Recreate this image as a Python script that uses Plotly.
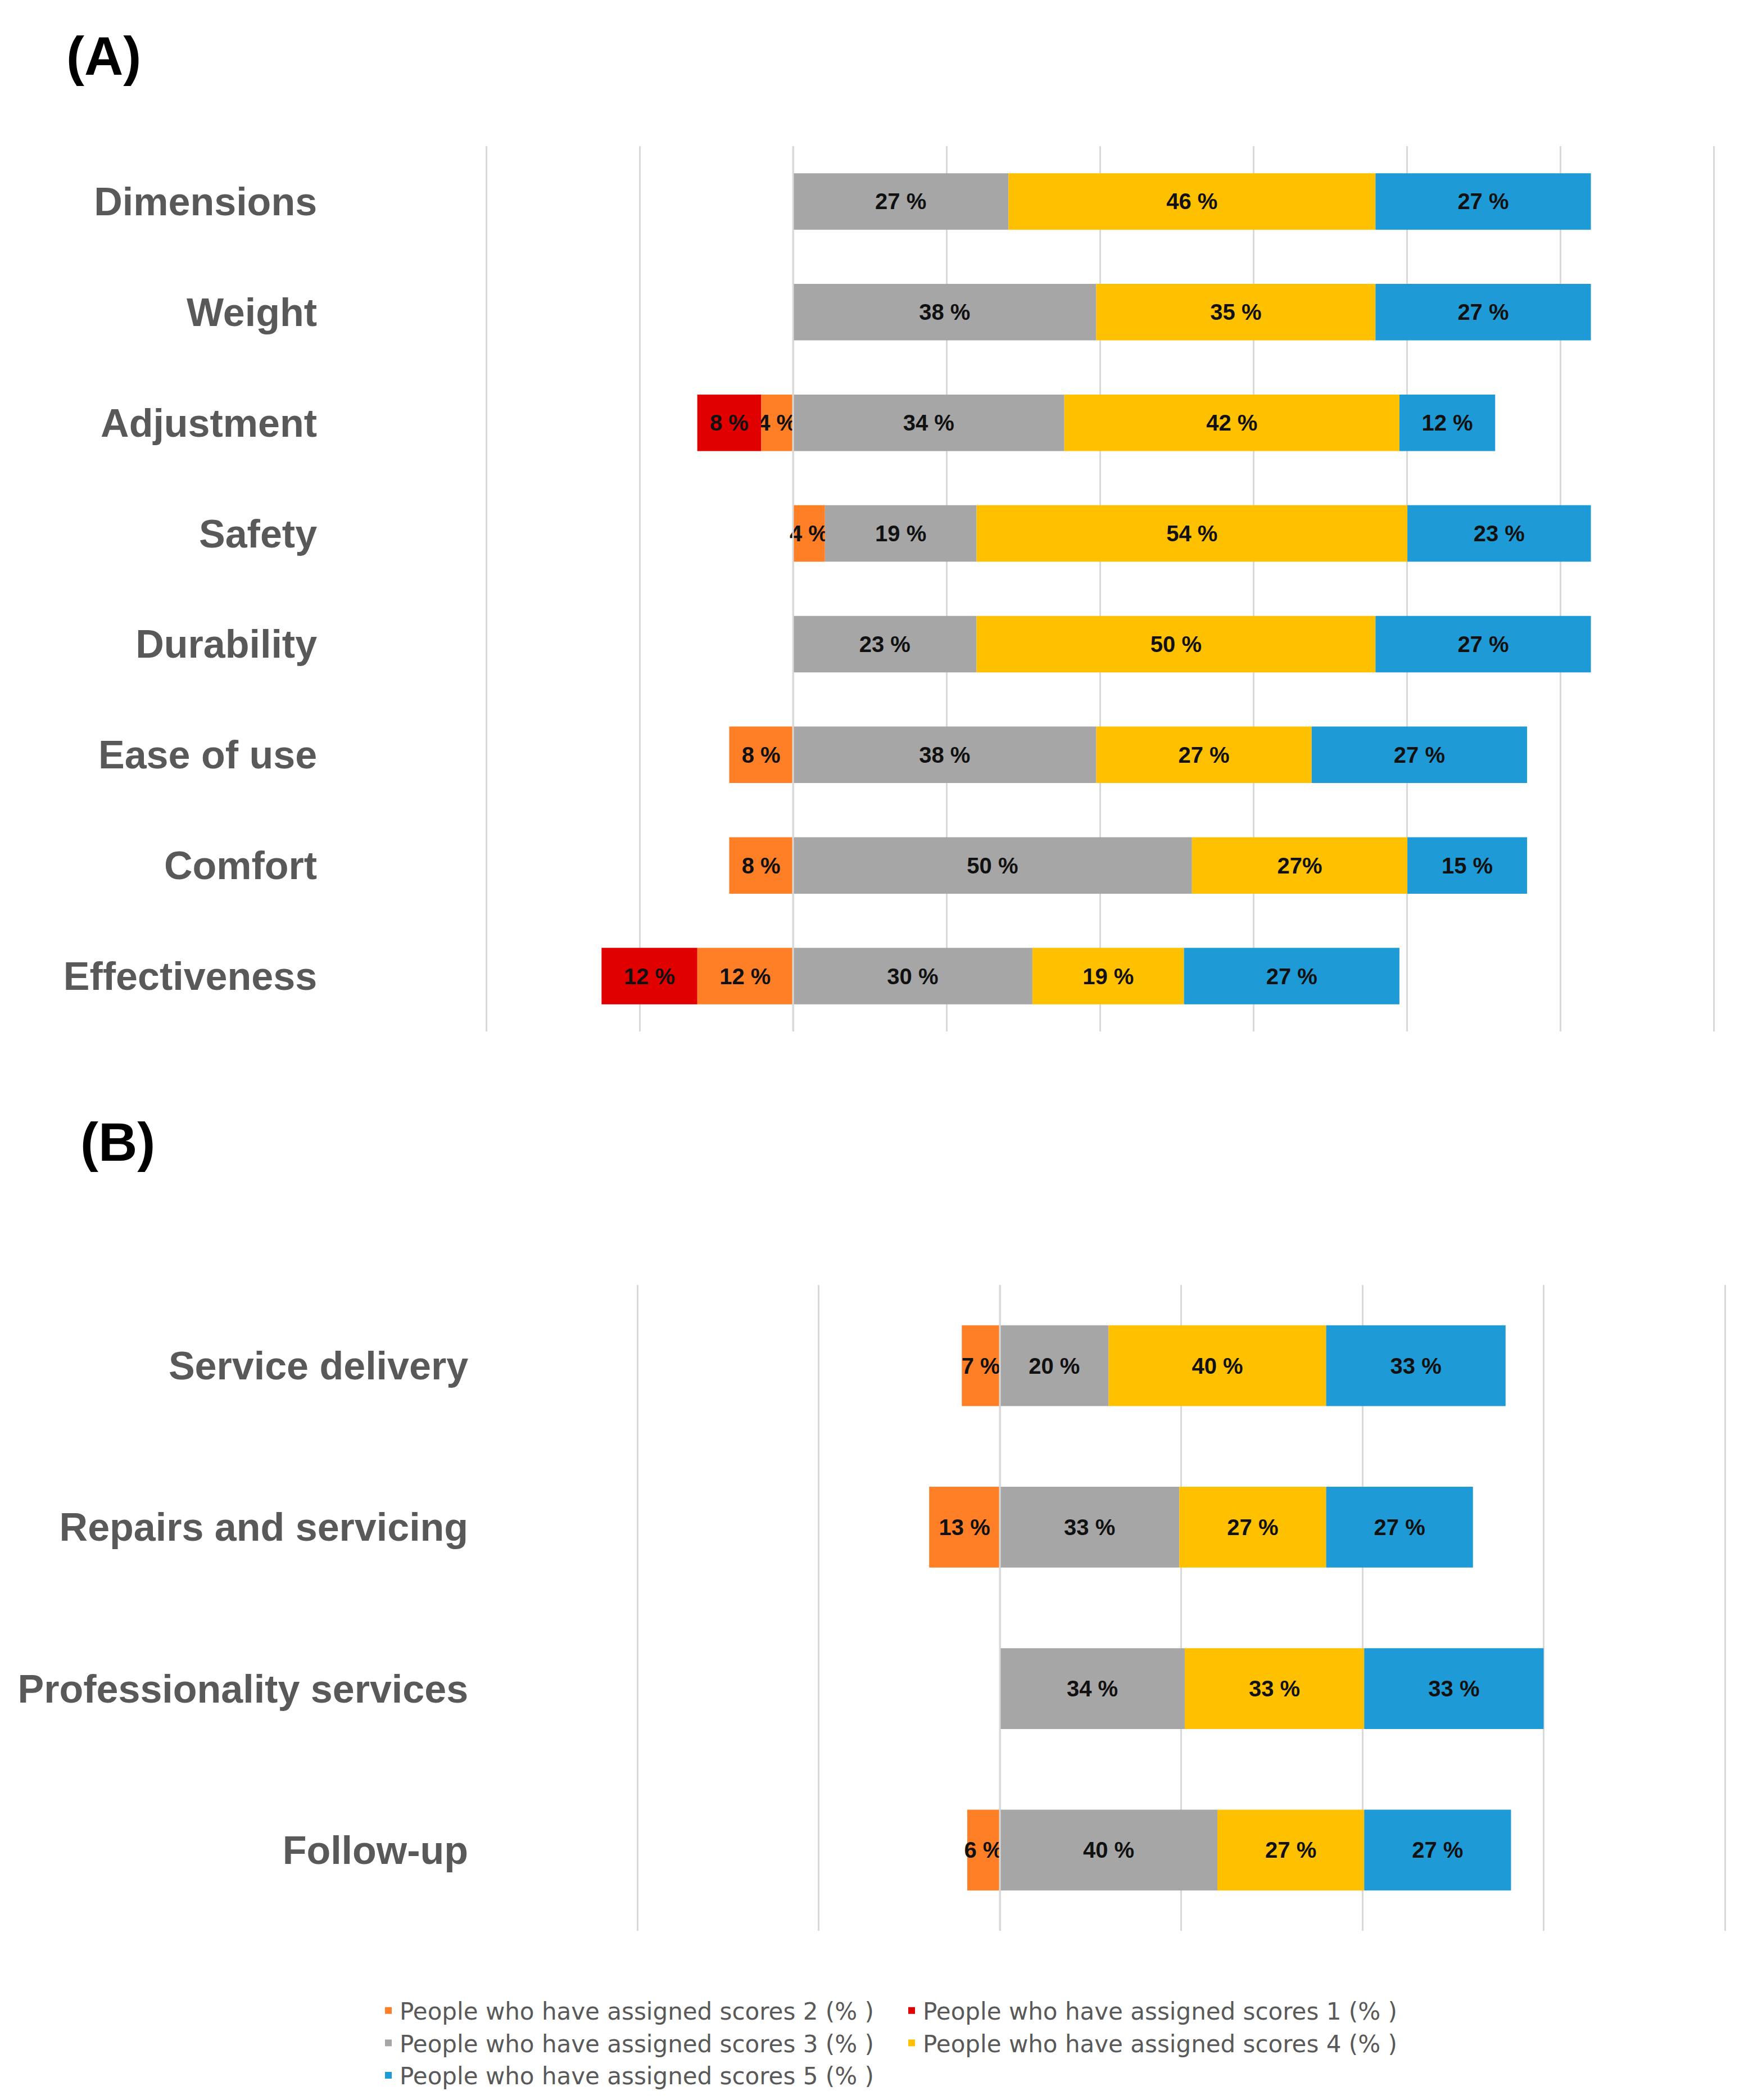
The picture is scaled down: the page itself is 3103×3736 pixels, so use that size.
import plotly.graph_objects as go

# ---------------- data ----------------
cats_a = ["Dimensions", "Weight", "Adjustment", "Safety", "Durability",
          "Ease of use", "Comfort", "Effectiveness"]
# score 1 and score 2 are drawn on the negative side (except Safety's score 2)
a_s1 = [None, None, -8, None, None, None, None, -12]
a_s2 = [None, None, -4, 4, None, -8, -8, -12]
a_s3 = [27, 38, 34, 19, 23, 38, 50, 30]
a_s4 = [46, 35, 42, 54, 50, 27, 27, 19]
a_s5 = [27, 27, 12, 23, 27, 27, 15, 27]

cats_b = ["Service delivery", "Repairs and servicing",
          "Professionality services", "Follow-up"]
b_s1 = [None, None, None, None]
b_s2 = [-7, -13, None, -6]
b_s3 = [20, 33, 34, 40]
b_s4 = [40, 27, 33, 27]
b_s5 = [33, 27, 33, 27]

# label exceptions as printed in the original
label_overrides_a = {("s4", "Comfort"): "27%"}

series_names = {
    "s1": "People who have assigned scores 1 (% )",
    "s2": "People who have assigned scores 2 (% )",
    "s3": "People who have assigned scores 3 (% )",
    "s4": "People who have assigned scores 4 (% )",
    "s5": "People who have assigned scores 5 (% )",
}
colors = {"s1": "#E00000", "s2": "#FF7F27", "s3": "#A6A6A6",
          "s4": "#FFC000", "s5": "#1E9BD7"}

# axis scale: respondents per panel, gridline every 5 respondents
respondents_a = 26
respondents_b = 15
grid_step_people = 5
range_people_a = (-10, 30)
range_people_b = (-10, 20)

# ---------------- figure ----------------
W, H = 3103, 3736
fig = go.Figure()

label_font = dict(family="Liberation Sans, Arial, sans-serif", size=40,
                  color="#111111", weight="bold")


def labels(vals, key, cats, overrides):
    out = []
    for v, c in zip(vals, cats):
        if v is None:
            out.append("")
        elif (key, c) in overrides:
            out.append(overrides[(key, c)])
        else:
            out.append(f"{abs(v)} %")
    return out


order = ["s2", "s1", "s3", "s4", "s5"]
data_a = {"s1": a_s1, "s2": a_s2, "s3": a_s3, "s4": a_s4, "s5": a_s5}
data_b = {"s1": b_s1, "s2": b_s2, "s3": b_s3, "s4": b_s4, "s5": b_s5}
legend_of = {"s2": "legend", "s3": "legend", "s5": "legend",
             "s1": "legend2", "s4": "legend2"}

for key in order:
    fig.add_trace(go.Bar(
        y=cats_a, x=data_a[key], orientation="h", name=series_names[key],
        marker=dict(color=colors[key], line=dict(width=0)),
        width=0.51,
        text=labels(data_a[key], key, cats_a, label_overrides_a),
        textposition="inside", insidetextanchor="middle", textangle=0,
        constraintext="none", insidetextfont=label_font,
        xaxis="x", yaxis="y", legend=legend_of[key], showlegend=True,
        hoverinfo="skip",
    ))

for key in order:
    fig.add_trace(go.Bar(
        y=cats_b, x=data_b[key], orientation="h", name=series_names[key],
        marker=dict(color=colors[key], line=dict(width=0)),
        width=0.5,
        text=labels(data_b[key], key, cats_b, {}),
        textposition="inside", insidetextanchor="middle", textangle=0,
        constraintext="none", insidetextfont=label_font,
        xaxis="x2", yaxis="y2", showlegend=False,
        hoverinfo="skip",
    ))

pct_a = 100.0 / respondents_a
pct_b = 100.0 / respondents_b

# pixel geometry of the two plot areas (outermost gridlines)
ax_a_px = (857, 3041)
ax_b_px = (1126, 3061)
pad = 0.2  # extra respondents on each side so edge gridlines are drawn
ppp_a = (ax_a_px[1] - ax_a_px[0]) / (range_people_a[1] - range_people_a[0])
ppp_b = (ax_b_px[1] - ax_b_px[0]) / (range_people_b[1] - range_people_b[0])

tick_font = dict(family="Liberation Sans, Arial, sans-serif", size=70,
                 color="#595959", weight="bold")
grid = dict(showgrid=True, gridcolor="#D9D9D9", gridwidth=3,
            showticklabels=False, zeroline=False, ticks="", showline=False,
            fixedrange=True)
legend_font = dict(family="DejaVu Sans, sans-serif", size=42, color="#595959")

fig.update_layout(
    width=W, height=H,
    margin=dict(l=0, r=0, t=0, b=0),
    paper_bgcolor="white", plot_bgcolor="white",
    barmode="relative",
    hovermode=False,
    xaxis=dict(domain=[(ax_a_px[0] - pad * ppp_a) / W,
                       (ax_a_px[1] + pad * ppp_a) / W],
               range=[(range_people_a[0] - pad) * pct_a,
                      (range_people_a[1] + pad) * pct_a],
               tick0=0, dtick=grid_step_people * pct_a, anchor="y", **grid),
    yaxis=dict(domain=[1 - 1827 / H, 1 - 252 / H], anchor="x",
               autorange="reversed", showgrid=False, zeroline=False,
               ticks="", showline=False, tickfont=tick_font,
               ticklabelstandoff=int(300 - pad * ppp_a), fixedrange=True),
    xaxis2=dict(domain=[(ax_b_px[0] - pad * ppp_b) / W,
                        (ax_b_px[1] + pad * ppp_b) / W],
                range=[(range_people_b[0] - pad) * pct_b,
                       (range_people_b[1] + pad) * pct_b],
                tick0=0, dtick=grid_step_people * pct_b, anchor="y2", **grid),
    yaxis2=dict(domain=[1 - 3427 / H, 1 - 2278 / H], anchor="x2",
                autorange="reversed", showgrid=False, zeroline=False,
                ticks="", showline=False, tickfont=tick_font,
                ticklabelstandoff=int(300 - pad * ppp_b), fixedrange=True),
    legend=dict(x=663 / W, y=1 - 3535 / H, xanchor="left", yanchor="top",
                orientation="v", bgcolor="rgba(0,0,0,0)", font=legend_font,
                tracegroupgap=0, itemclick=False, itemdoubleclick=False),
    legend2=dict(x=1594 / W, y=1 - 3535 / H, xanchor="left", yanchor="top",
                 orientation="v", bgcolor="rgba(0,0,0,0)", font=legend_font,
                 tracegroupgap=0, itemclick=False, itemdoubleclick=False),
    annotations=[
        dict(text="(A)", x=108 / W, y=1 - 92 / H, xref="paper", yref="paper",
             xanchor="left", yanchor="middle", showarrow=False,
             font=dict(family="Liberation Sans, Arial, sans-serif", size=96,
                       color="black", weight="bold")),
        dict(text="(B)", x=133 / W, y=1 - 2023 / H, xref="paper", yref="paper",
             xanchor="left", yanchor="middle", showarrow=False,
             font=dict(family="Liberation Sans, Arial, sans-serif", size=96,
                       color="black", weight="bold")),
    ],
    shapes=[
        dict(type="line", xref="x", yref="y domain", x0=0, x1=0, y0=0, y1=1,
             line=dict(color="#D9D9D9", width=3), layer="above"),
        dict(type="line", xref="x2", yref="y2 domain", x0=0, x1=0, y0=0, y1=1,
             line=dict(color="#D9D9D9", width=3), layer="above"),
    ],
)

fig.write_html("out.html", config={"displayModeBar": False, "staticPlot": True})
